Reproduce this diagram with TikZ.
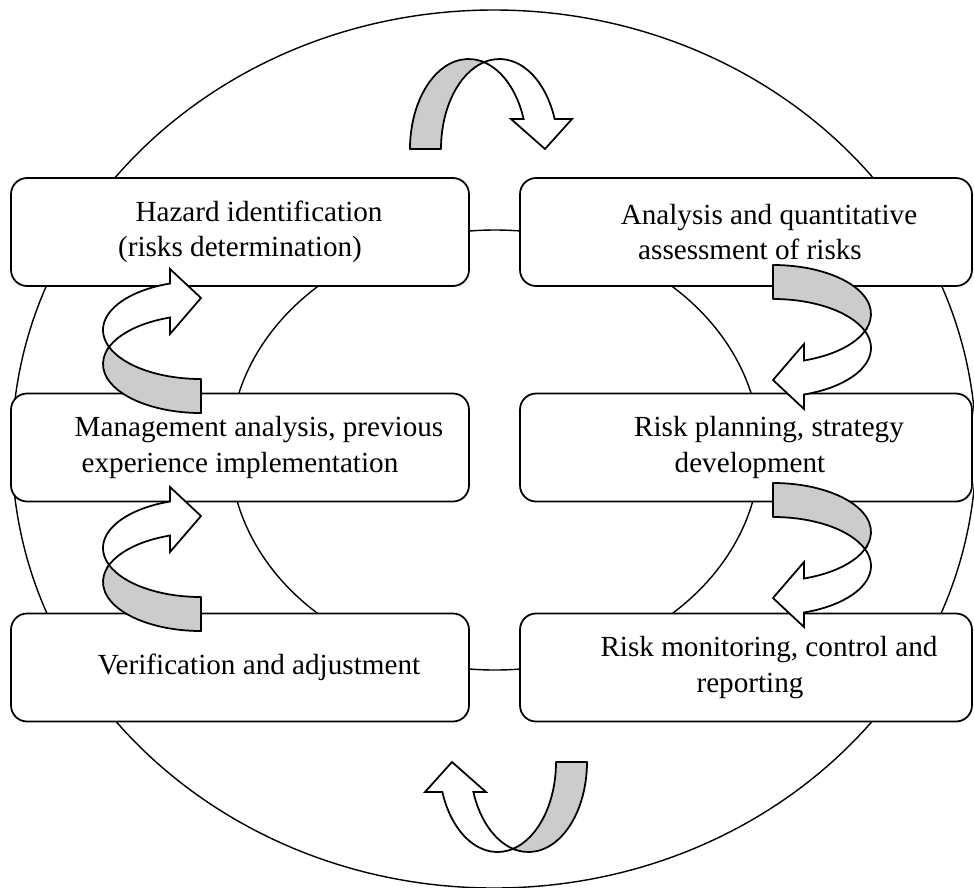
\documentclass[tikz,border=0pt]{standalone}
\usepackage{fontspec}
\setmainfont{Liberation Serif}

\tikzset{
  ring/.style={line width=0.8pt},
  stage/.style={draw, line width=1pt, fill=white, rounded corners=0.32cm,
    inner sep=0pt, minimum height=2.16cm, align=center,
    font=\fontsize{16.6}{20}\selectfont},
  leftstage/.style={stage, minimum width=9.16cm},
  rightstage/.style={stage, minimum width=9.04cm},
  ribbonback/.style={draw, line width=1pt, fill=black!20, line join=round},
  ribbonfront/.style={draw, line width=1pt, fill=white, line join=miter},
  % curved ribbon arrow: lateral radius / depth radius / edge offset /
  % head base depth / near wing / far wing / tip
  pics/ribbonarrow/.style args={#1/#2/#3/#4/#5/#6/#7}{code={
    \pgfmathsetmacro\ribF{acos(#3/(2*#1))}
    \pgfmathsetmacro\ribH{asin(#4/#2)}
    \pgfmathsetmacro\ribFy{-#2*sin(\ribF)}
    \pgfmathsetmacro\ribHx{#1*cos(\ribH)}
    % back side of the ribbon
    \path[ribbonback] ({-#3/2-#1},0)
      arc[start angle=180, end angle={360-\ribF}, x radius=#1, y radius=#2]
      arc[start angle={180+\ribF}, end angle=180, x radius=#1, y radius=#2]
      -- cycle;
    % front side with the arrow head
    \path[ribbonfront] (0,\ribFy)
      arc[start angle={180+\ribF}, end angle={360-\ribH}, x radius=#1, y radius=#2]
      -- (#6,-#4) -- (#7,0) -- (#5,-#4) -- ({-#3/2+\ribHx},-#4)
      arc[start angle={360-\ribH}, end angle={360-\ribF}, x radius=#1, y radius=#2]
      -- cycle;
  }}
}

\begin{document}
\begin{tikzpicture}[x=0.02cm, y=-0.02cm]
  \useasboundingbox (0,0) rectangle (974,887);
  \begin{scope}
    \clip (0,0) rectangle (974,887);

    % outer and inner rings
    \draw[ring] (494,449) ellipse [x radius=482, y radius=439];
    \draw[ring] (495,450) ellipse [x radius=265, y radius=220];

    % process stages
    \node[leftstage] (hazard) at (240,232)
      {\hspace*{0.76cm}Hazard identification\\(risks determination)};
    \node[rightstage] (analysis) at (746,232)
      {\hspace*{0.92cm}Analysis and quantitative\\\hspace*{0.16cm}assessment of risks};
    \node[leftstage] (mgmt) at (240,447.5)
      {\hspace*{0.76cm}Management analysis, previous\\experience implementation};
    \node[rightstage] (planning) at (746,447.5)
      {\hspace*{0.92cm}Risk planning, strategy\\\hspace*{0.16cm}development};
    \node[leftstage] (verify) at (240,667.5)
      {\hspace*{0.76cm}Verification and adjustment};
    \node[rightstage] (monitor) at (746,667.5)
      {\hspace*{0.92cm}Risk monitoring, control and\\\hspace*{0.16cm}reporting};

    % curved transition arrows
    \pic at (484,149) {ribbonarrow=58.5/90/31/30/27/88/61};
    \pic[rotate=180] at (513,762) {ribbonarrow=58.5/90/31/30/27/88/61};
    \pic[rotate=90] at (201,347) {ribbonarrow=49/98/34/31/13/78/49};
    \pic[rotate=90] at (201,565) {ribbonarrow=49/98/34/31/13/78/49};
    \pic[rotate=-90] at (773,331) {ribbonarrow=49/98/34/31/13/78/49};
    \pic[rotate=-90] at (773,549) {ribbonarrow=49/98/34/31/13/78/49};
  \end{scope}
\end{tikzpicture}
\end{document}
